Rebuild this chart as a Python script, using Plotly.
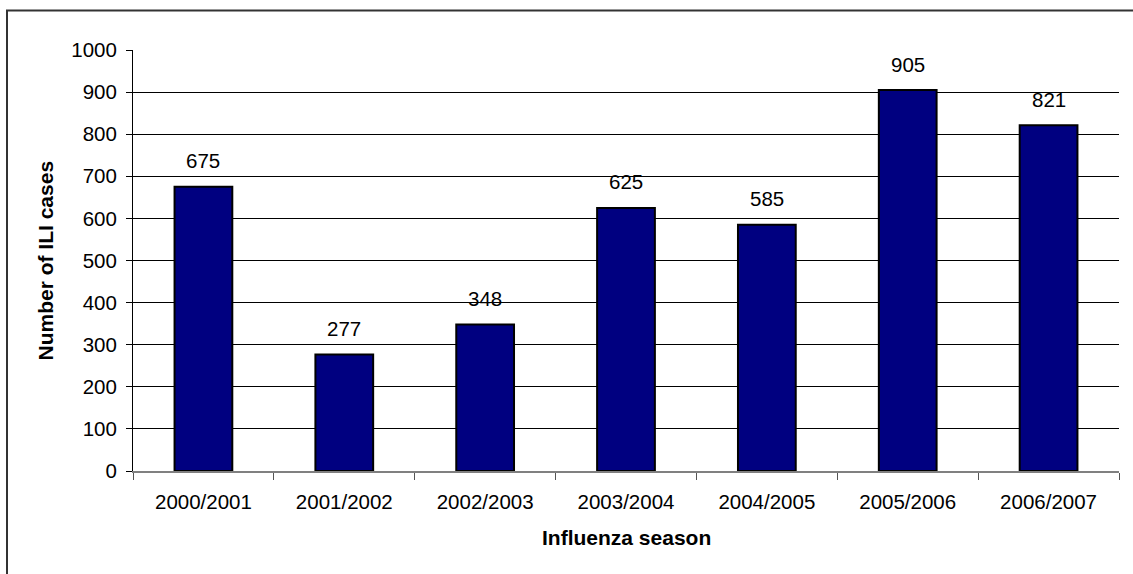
import plotly.graph_objects as go

# Influenza-like illness cases per season
seasons = ["2000/2001", "2001/2002", "2002/2003", "2003/2004",
           "2004/2005", "2005/2006", "2006/2007"]
ili_cases = [675, 277, 348, 625, 585, 905, 821]

y_ticks = list(range(0, 1001, 100))

FONT = "Arial, 'Liberation Sans', sans-serif"
W, H = 1133, 574
M_L, M_R, M_T, M_B = 133, 14, 49.5, 103.3
PW = W - M_L - M_R
PH = H - M_T - M_B


def px_to_paper_x(px):
    return (px - M_L) / PW


def px_to_paper_y(py):
    return (H - M_B - py) / PH


fig = go.Figure()
fig.add_trace(go.Bar(
    x=seasons,
    y=ili_cases,
    width=0.41,
    marker=dict(color="#000080", line=dict(color="#000000", width=2)),
    hoverinfo="x+y",
))

# value labels above each bar
for s, v in zip(seasons, ili_cases):
    fig.add_annotation(
        x=s, y=v, text=str(v), showarrow=False,
        yanchor="middle", yshift=26,
        font=dict(family=FONT, size=20.5, color="#000000"),
    )

# axis titles
fig.add_annotation(
    xref="paper", yref="paper", x=0.5, y=px_to_paper_y(537),
    text="<b>Influenza season</b>", showarrow=False,
    xanchor="center", yanchor="middle",
    font=dict(family=FONT, size=21, color="#000000"),
)
fig.add_annotation(
    xref="paper", yref="paper", x=px_to_paper_x(45), y=0.5,
    text="<b>Number of ILI cases</b>", showarrow=False, textangle=-90,
    xanchor="center", yanchor="middle",
    font=dict(family=FONT, size=21, color="#000000"),
)

# outer chart frame
fig.add_shape(
    type="rect", xref="paper", yref="paper",
    x0=px_to_paper_x(7), x1=px_to_paper_x(1145),
    y0=px_to_paper_y(590), y1=px_to_paper_y(10),
    line=dict(color="#333333", width=2), fillcolor="rgba(0,0,0,0)",
    layer="below",
)

fig.update_layout(
    width=W, height=H,
    margin=dict(l=M_L, r=M_R, t=M_T, b=M_B, autoexpand=False),
    paper_bgcolor="#ffffff",
    plot_bgcolor="#ffffff",
    showlegend=False,
    font=dict(family=FONT, size=20.5, color="#000000"),
    xaxis=dict(
        type="category",
        tickson="boundaries",
        ticks="outside", ticklen=7, tickwidth=1, tickcolor="#555555",
        ticklabelstandoff=11,
        showline=True, linecolor="#808080", linewidth=2,
        showgrid=False, zeroline=False,
        tickfont=dict(family=FONT, size=20.5, color="#000000"),
        automargin=False,
    ),
    yaxis=dict(
        range=[0, 1000],
        tickvals=y_ticks,
        ticks="outside", ticklen=6, tickwidth=1, tickcolor="#000000",
        ticklabelstandoff=5,
        showline=True, linecolor="#000000", linewidth=1,
        showgrid=True, gridcolor="#000000", gridwidth=1,
        zeroline=False,
        tickfont=dict(family=FONT, size=20.5, color="#000000"),
        automargin=False,
    ),
)

fig.write_html("out.html")
